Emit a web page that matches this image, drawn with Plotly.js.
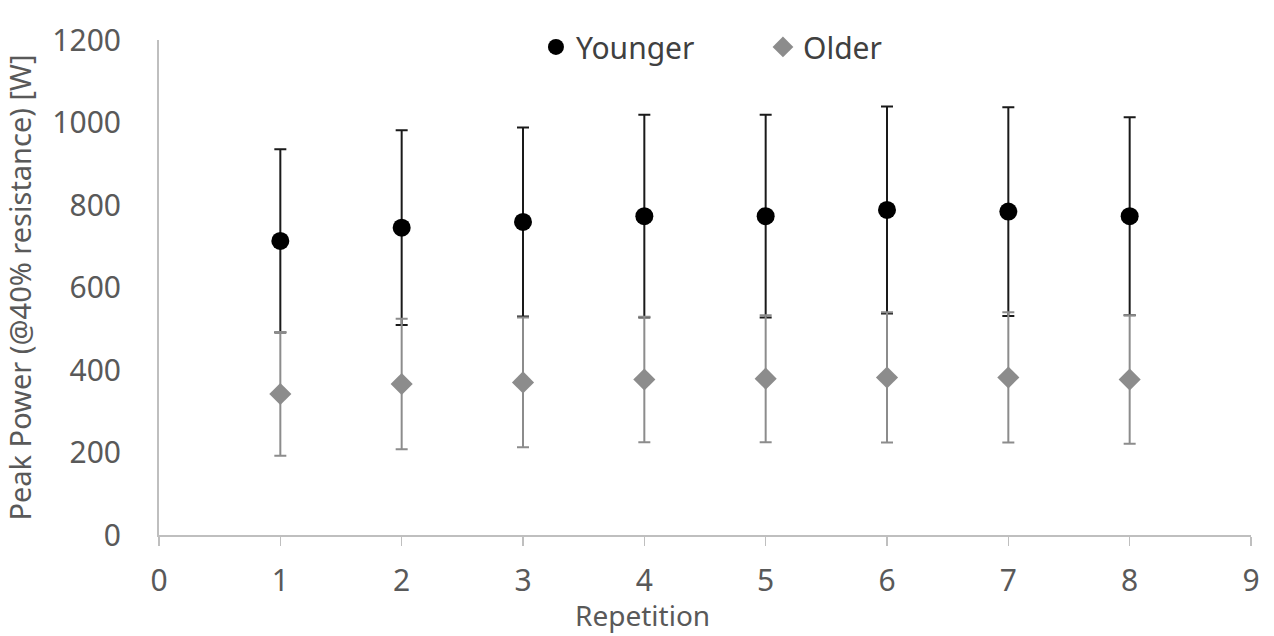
<!DOCTYPE html>
<html>
<head>
<meta charset="utf-8">
<script src="https://cdn.plot.ly/plotly-3.0.1.min.js"></script>
<style>html,body{margin:0;padding:0;background:#fff;}#chart{width:1274px;height:636px;}</style>
</head>
<body>
<div id="chart"></div>
<script>
const repetitions = [1, 2, 3, 4, 5, 6, 7, 8];
const youngerMean = [713, 745, 759, 773, 773, 788, 784, 773];
const youngerSD   = [222, 236, 229, 246, 246, 251, 253, 240];
const olderMean   = [342, 366, 370, 377, 379, 382, 382, 377];
const olderSD     = [150, 158, 157, 152, 154, 158, 158, 156];
const xTicks = [0, 1, 2, 3, 4, 5, 6, 7, 8, 9];
const yTicks = [0, 200, 400, 600, 800, 1000, 1200];
const xTitle = "Repetition";
const yTitle = "Peak Power (@40% resistance) [W]";

const fontFam = "Noto Sans, Open Sans, sans-serif";
const textCol = "#595959";

const traces = [
  {
    x: repetitions, y: youngerMean, name: "Younger", type: "scatter", mode: "markers",
    marker: {symbol: "circle", size: 18, color: "#000000"},
    error_y: {type: "data", array: youngerSD, visible: true, color: "#1a1a1a", thickness: 2, width: 6}
  },
  {
    x: repetitions, y: olderMean, name: "Older", type: "scatter", mode: "markers",
    marker: {symbol: "diamond", size: 17, color: "#8c8c8c"},
    error_y: {type: "data", array: olderSD, visible: true, color: "#8c8c8c", thickness: 2, width: 6}
  }
];

const layout = {
  width: 1274, height: 636,
  margin: {l: 159, r: 23, t: 40, b: 101},
  paper_bgcolor: "#ffffff", plot_bgcolor: "#ffffff",
  font: {family: fontFam, color: textCol, size: 24},
  showlegend: true,
  legend: {orientation: "h", x: 0.3452, xanchor: "left", y: 0.986, yanchor: "middle",
           entrywidth: 182, entrywidthmode: "pixels",
           font: {family: fontFam, size: 30, color: "#404040"}, bgcolor: "rgba(0,0,0,0)"},
  xaxis: {
    range: [0, 9], tickvals: xTicks, ticktext: xTicks.map(String),
    showgrid: false, zeroline: false, showline: true, linecolor: "#bfbfbf", linewidth: 2,
    ticks: "outside", ticklen: 9, tickcolor: "#bfbfbf", tickwidth: 1.5,
    ticklabelstandoff: 9,
    tickfont: {family: fontFam, size: 30, color: textCol}
  },
  yaxis: {
    range: [0, 1200], tickvals: yTicks, ticktext: yTicks.map(String),
    showgrid: false, zeroline: false, showline: true, linecolor: "#bfbfbf", linewidth: 2,
    ticks: "", ticklabelstandoff: 30,
    tickfont: {family: fontFam, size: 30, color: textCol},
    title: {text: yTitle, font: {family: fontFam, size: 29, color: textCol}, standoff: 12}
  },
  annotations: [{
    text: xTitle, xref: "paper", yref: "paper", x: 0.443, y: -0.1616,
    xanchor: "center", yanchor: "middle", showarrow: false,
    font: {family: fontFam, size: 28, color: textCol}
  }]
};

Plotly.newPlot("chart", traces, layout, {displayModeBar: false, staticPlot: true});
</script>
</body>
</html>
